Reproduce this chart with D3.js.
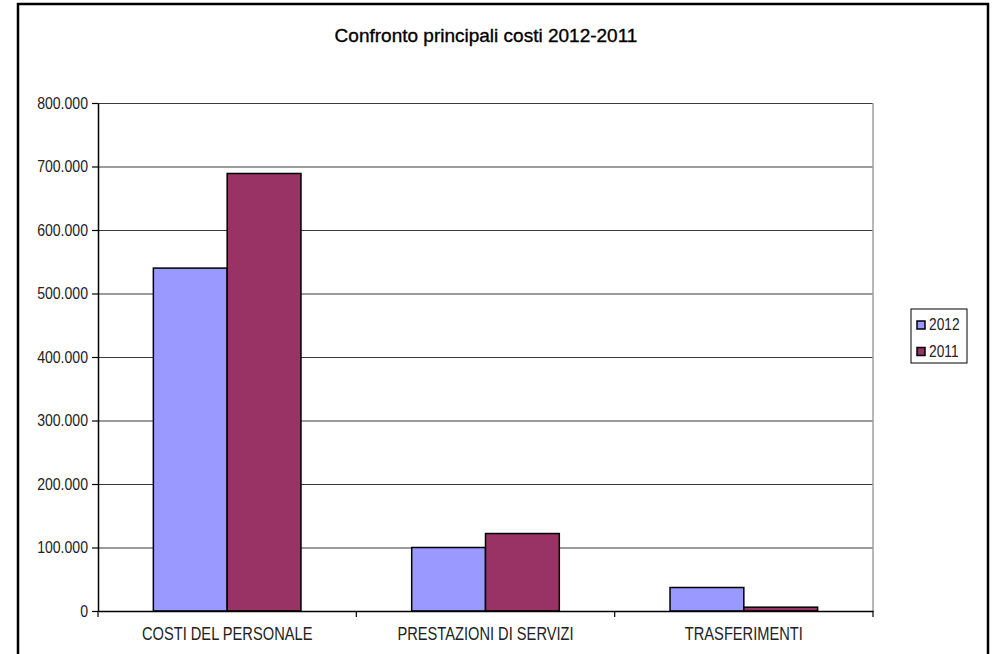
<!DOCTYPE html>
<html lang="en">
<head>
<meta charset="UTF-8">
<title>Confronto principali costi 2012-2011</title>
<script src="https://cdnjs.cloudflare.com/ajax/libs/d3/7.8.5/d3.min.js"></script>
<style>
    * { margin: 0; padding: 0; box-sizing: border-box; }
    body { background: #fff; font-family: 'Liberation Sans', Arial, sans-serif; }
    svg { display: block; }
    svg text { font-family: 'Liberation Sans', Arial, sans-serif; }
</style>
</head>
<body>
<div id="chart"></div>
<script>
    // data
    const categories = ['COSTI DEL PERSONALE', 'PRESTAZIONI DI SERVIZI', 'TRASFERIMENTI'];
    const seriesNames = ['2012', '2011'];
    const values2012 = [540000, 100000, 37000];
    const values2011 = [689000, 122000, 6000];
    const yTicks = [0, 100000, 200000, 300000, 400000, 500000, 600000, 700000, 800000];
    const colors = ['#9999ff', '#993366'];

    const width = 996, height = 654;
    const plot = { left: 98, top: 103, right: 873, bottom: 611 };
    // the original text is squeezed horizontally
    const sxX = 0.815, sxY = 0.88, sxLeg = 0.86;

    const svg = d3.select('#chart').append('svg')
        .attr('width', width)
        .attr('height', height);

    // outer frame (bottom edge is off the picture)
    svg.append('rect')
        .attr('x', 18).attr('y', 4)
        .attr('width', 970).attr('height', 670)
        .attr('fill', '#fff')
        .attr('stroke', '#000')
        .attr('stroke-width', 2.5);

    svg.append('text')
        .attr('x', 486).attr('y', 42)
        .attr('text-anchor', 'middle')
        .attr('font-size', 19)
        .attr('fill', '#000')
        .attr('stroke', '#000')
        .attr('stroke-width', 0.35)
        .text('Confronto principali costi 2012-2011');

    const x = d3.scaleBand()
        .domain(categories)
        .range([plot.left, plot.right]);

    // Excel-style gap: 75% of a bar width on each side of the pair
    const xSeries = d3.scaleBand()
        .domain(seriesNames)
        .range([0, x.bandwidth()])
        .paddingOuter(0.75)
        .paddingInner(0);

    const y = d3.scaleLinear()
        .domain([0, 800000])
        .range([plot.bottom, plot.top]);

    const fmt = v => d3.format(',')(v).replace(/,/g, '.');

    // gridlines
    svg.append('g')
        .selectAll('line')
        .data(yTicks.filter(t => t > 0))
        .enter().append('line')
        .attr('x1', plot.left).attr('x2', plot.right)
        .attr('y1', d => y(d) + 0.5).attr('y2', d => y(d) + 0.5)
        .attr('stroke', '#3a3a3a')
        .attr('stroke-width', 1.2);

    // right edge of plot area
    svg.append('line')
        .attr('x1', plot.right).attr('x2', plot.right)
        .attr('y1', plot.top).attr('y2', plot.bottom)
        .attr('stroke', '#a0a0a0')
        .attr('stroke-width', 1.5);

    // bars
    const rows = categories.map((c, i) => ({ cat: c, vals: [values2012[i], values2011[i]] }));
    const groups = svg.append('g')
        .selectAll('g')
        .data(rows)
        .enter().append('g')
        .attr('transform', d => `translate(${x(d.cat)},0)`);

    groups.selectAll('rect')
        .data(d => d.vals.map((v, j) => ({ name: seriesNames[j], v, j })))
        .enter().append('rect')
        .attr('x', d => xSeries(d.name))
        .attr('y', d => y(d.v))
        .attr('width', xSeries.bandwidth())
        .attr('height', d => y(0) - y(d.v))
        .attr('fill', d => colors[d.j])
        .attr('stroke', '#000')
        .attr('stroke-width', 1.5);

    // y axis
    const yAxis = svg.append('g')
        .attr('transform', `translate(${plot.left},0)`)
        .call(d3.axisLeft(y).tickValues(yTicks).tickSize(6).tickSizeOuter(0).tickFormat(fmt));
    yAxis.attr('font-family', null);
    yAxis.select('.domain').attr('stroke', '#000').attr('stroke-width', 1.5);
    yAxis.selectAll('.tick line').attr('stroke', '#000').attr('stroke-width', 1.2);
    yAxis.selectAll('.tick text')
        .attr('font-size', 16)
        .attr('fill', '#222')
        .attr('x', -10 / sxY)
        .attr('transform', `scale(${sxY},1)`);

    // x axis
    const xAxis = svg.append('g')
        .attr('transform', `translate(0,${plot.bottom})`)
        .call(d3.axisBottom(x).tickSize(0).tickSizeOuter(0));
    xAxis.attr('font-family', null);
    xAxis.select('.domain').attr('stroke', '#000').attr('stroke-width', 1.5);
    xAxis.selectAll('.tick text')
        .attr('font-size', 18)
        .attr('fill', '#222')
        .attr('y', 29)
        .attr('dy', 0)
        .attr('transform', `scale(${sxX},1)`);

    // category separator ticks
    const edges = categories.map(c => x(c)).concat([plot.right]);
    svg.append('g')
        .selectAll('line')
        .data(edges)
        .enter().append('line')
        .attr('x1', d => d).attr('x2', d => d)
        .attr('y1', plot.bottom).attr('y2', plot.bottom + 6)
        .attr('stroke', '#000')
        .attr('stroke-width', 1.2);

    // legend
    const legend = svg.append('g').attr('transform', 'translate(911,309)');
    legend.append('rect')
        .attr('width', 56).attr('height', 54)
        .attr('fill', '#fff')
        .attr('stroke', '#000')
        .attr('stroke-width', 1);
    const items = legend.selectAll('g.item')
        .data(seriesNames)
        .enter().append('g')
        .attr('class', 'item')
        .attr('transform', (d, i) => `translate(6,${12 + i * 26.5})`);
    items.append('rect')
        .attr('width', 8).attr('height', 8)
        .attr('fill', (d, i) => colors[i])
        .attr('stroke', '#000')
        .attr('stroke-width', 1.5);
    items.append('text')
        .attr('x', 12 / sxLeg).attr('y', 9)
        .attr('font-size', 16)
        .attr('fill', '#222')
        .attr('transform', `scale(${sxLeg},1)`)
        .text(d => d);
</script>
</body>
</html>
